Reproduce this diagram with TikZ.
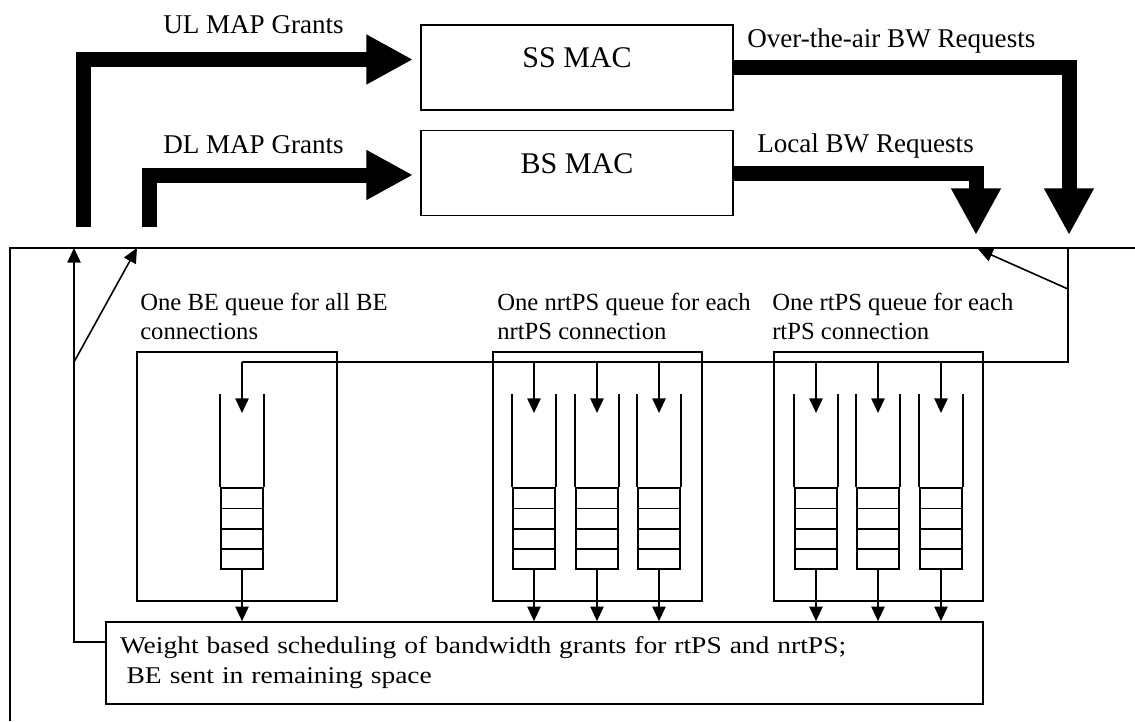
\documentclass[tikz,border=0pt]{standalone}
\usepackage{fontspec}
\setmainfont{Liberation Serif}
\newfontfamily\wideserif[FakeStretch=1.145]{Liberation Serif}
\usetikzlibrary{arrows.meta}
\begin{document}
\begin{tikzpicture}[x=0.75pt,y=-0.75pt,
  thin/.style={line width=1.2pt},
  fat/.style={line width=11.25pt, line join=miter, -{Triangle[length=35pt,width=35pt]}},
  tiparrow/.style={thin, -{Triangle[length=11pt,width=10pt]}},
  macbox/.style={draw, thin, minimum width=234pt, minimum height=63.5pt, inner sep=0pt,
    text height=10pt, text depth=10pt, font=\fontsize{22.5}{27}\selectfont},
  toplabel/.style={font=\fontsize{20.3}{24}\selectfont, anchor=base west, inner sep=0pt},
  qlabel/.style={font=\fontsize{18.5}{22}\selectfont, anchor=base west, inner sep=0pt},
  groupbox/.style={draw, thin, minimum height=186.75pt, inner sep=0pt},
  cellstack/.style={draw, thin, minimum width=31.5pt, minimum height=60.75pt, inner sep=0pt},
  schedbox/.style={draw, thin, minimum width=657.75pt, minimum height=61.5pt,
    inner xsep=10.5pt, inner ysep=0pt, text width=636.75pt, align=left,
    font=\wideserif\fontsize{18}{22.5}\selectfont}
]
\useasboundingbox (0,0) rectangle (1135,721);

% outer frame
\draw[thin] (10,721) -- (10,248) -- (1135,248);

% MAC boxes
\node[macbox] (ss) at (577,67.5) {SS MAC};
\node[macbox] (bs) at (577,173) {BS MAC};

% top labels
\node[toplabel] (ul) at (163,33) {UL MAP Grants};
\node[toplabel] (dl) at (163,153) {DL MAP Grants};
\node[toplabel] (ota) at (747,47) {Over-the-air BW Requests};
\node[toplabel] (loc) at (757,152) {Local BW Requests};

% thick arrows
\coordinate (ulS) at (83,227);
\coordinate (ulT) at (413,59.5);
\draw[fat] (ulS) -- (ulS |- ulT) -- (ulT);
\coordinate (dlS) at (149,227);
\coordinate (dlT) at (413,175);
\draw[fat] (dlS) -- (dlS |- dlT) -- (dlT);
\coordinate (otaX) at (1069,235);
\draw[fat] (ss.east) -- (ss.east -| otaX) -- (otaX);
\coordinate (locX) at (976,235);
\draw[fat] (bs.east) -- (bs.east -| locX) -- (locX);

% group boxes
\node[groupbox, minimum width=150pt] (gbe) at (237,476.5) {};
\node[groupbox, minimum width=156.75pt] (gnrt) at (597.5,476.5) {};
\node[groupbox, minimum width=156.75pt] (grt) at (878.5,476.5) {};

% group labels
\node[qlabel] (lbe1) at (140,310) {One BE queue for all BE};
\node[qlabel] (lbe2) at (140,339) {connections};
\node[qlabel] (lnrt1) at (497,310) {One nrtPS queue for each};
\node[qlabel] (lnrt2) at (497,339) {nrtPS connection};
\node[qlabel] (lrt1) at (772,310) {One rtPS queue for each};
\node[qlabel] (lrt2) at (772,339) {rtPS connection};

% scheduler
\node[schedbox] (sched) at (544.5,663) {Weight based scheduling of bandwidth grants for rtPS and nrtPS;\\\hspace{5pt}BE sent in remaining space};

% request bus
\coordinate (busR) at (1068,362);
\coordinate (frameR) at (1068,248);
\coordinate (busTap) at (1068,289);
\coordinate (reqTip) at (978,249);
\draw[thin] (frameR) -- (busR) -- (242,362);
\draw[tiparrow] (busTap) -- (reqTip);

% queues
\foreach \cx/\nm in {242/qa, 534/qb, 597/qc, 659/qd, 816/qe, 878/qf, 941/qg}{
  \node[cellstack] (\nm) at (\cx,528.5) {};
  \draw[thin] (\nm.north west) -- ++(0,-93);
  \draw[thin] (\nm.north east) -- ++(0,-93);
  \draw[thin] (\cx-21,508.3) -- (\cx+21,508.3);
  \draw[thin] (\cx-21,528.7) -- (\cx+21,528.7);
  \draw[thin] (\cx-21,549) -- (\cx+21,549);
  \draw[tiparrow] (\cx,362) -- (\cx,413);
  \draw[tiparrow] (\nm.south) -- (\nm.south |- sched.north);
}

% grants to MAC
\coordinate (schedIn) at (106,642);
\coordinate (gUp) at (74,248);
\coordinate (gSplit) at (74,362);
\coordinate (gDiag) at (137,248);
\draw[tiparrow] (schedIn) -- (schedIn -| gUp) -- (gUp);
\draw[tiparrow] (gSplit) -- (gDiag);
\end{tikzpicture}
\end{document}
